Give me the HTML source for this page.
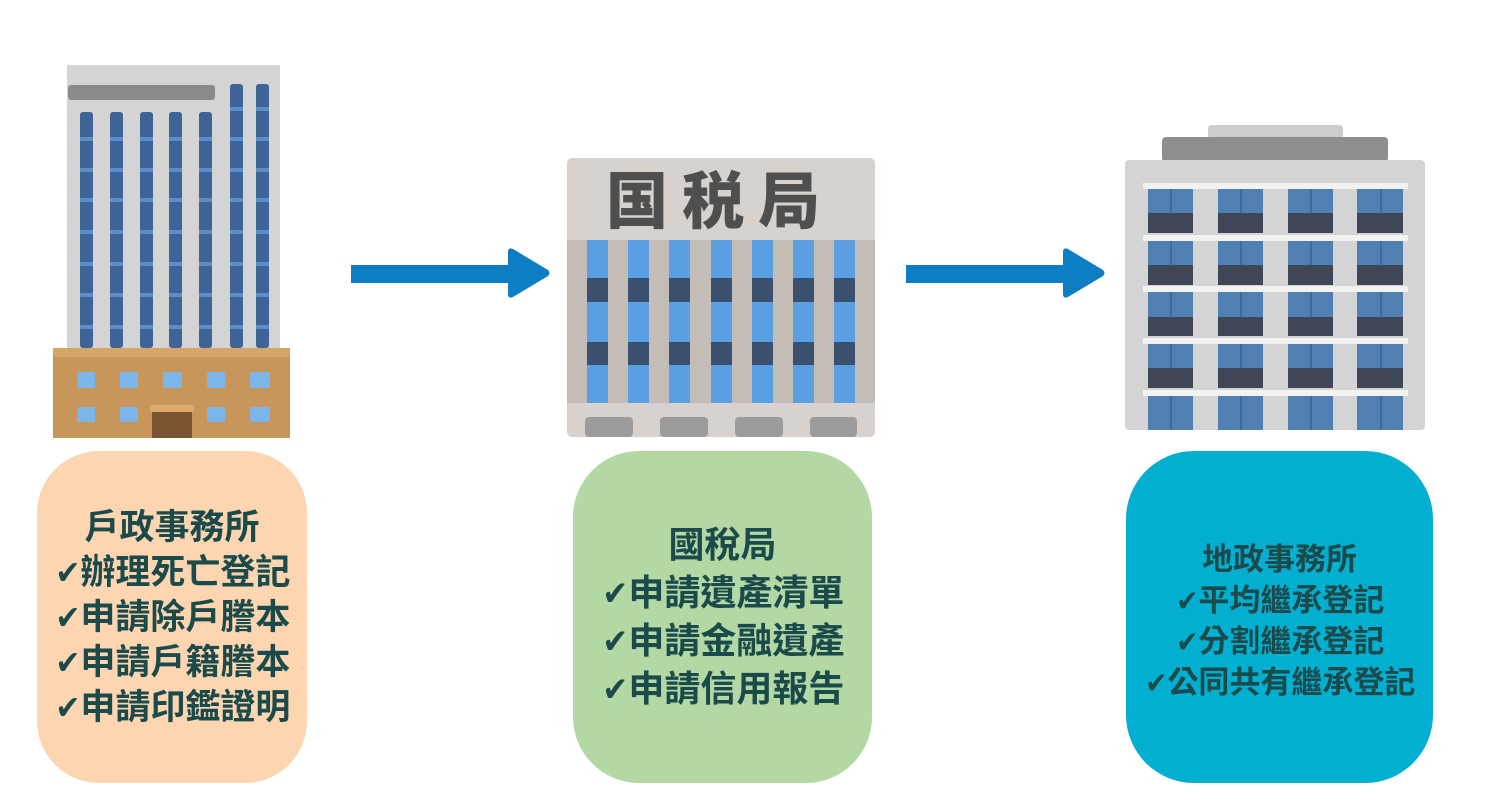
<!DOCTYPE html>
<html>
<head>
<meta charset="utf-8">
<style>
html,body{margin:0;padding:0;background:#fff;}
body{width:1500px;height:800px;position:relative;overflow:hidden;font-family:"Liberation Sans","Noto Sans CJK TC","DejaVu Sans",sans-serif;}
svg{position:absolute;left:0;top:0;}
.box{position:absolute;display:flex;align-items:center;justify-content:center;flex-direction:column;color:#1b4a4b;font-weight:bold;white-space:nowrap;text-align:center;box-sizing:border-box;}
.b1{left:37px;top:451px;width:270px;height:332px;background:#fdd5b0;border-radius:62px;font-size:35px;line-height:45px;}
.b2{left:573px;top:451px;width:299px;height:332px;background:#b3d8a4;border-radius:66px;font-size:36px;line-height:48px;}
.b3{left:1126px;top:451px;width:307px;height:332px;background:#03afd1;border-radius:68px;font-size:31px;line-height:41px;padding-top:8px;}
.ck{font-family:"DejaVu Sans",sans-serif;font-size:0.95em;line-height:0;display:inline-block;transform:scaleX(0.9);margin-right:-1px;}
</style>
</head>
<body>
<svg width="1500" height="800" viewBox="0 0 1500 800" xmlns="http://www.w3.org/2000/svg">
  <!-- Building 1 -->
  <rect x="67" y="65" width="213" height="285" fill="#d4d4d4"/>
  <rect x="68" y="85" width="147" height="15" rx="3" fill="#8a8a8a"/>
  <g fill="#3d6397">
    <rect x="80" y="112" width="13" height="236" rx="3"/>
    <rect x="110" y="112" width="13" height="236" rx="3"/>
    <rect x="140" y="112" width="13" height="236" rx="3"/>
    <rect x="169" y="112" width="13" height="236" rx="3"/>
    <rect x="199" y="112" width="13" height="236" rx="3"/>
    <rect x="230" y="84" width="13" height="264" rx="3"/>
    <rect x="256" y="84" width="13" height="264" rx="3"/>
  </g>
  <g fill="#5d8dc6">
    <rect x="80" y="137" width="189" height="4"/>
    <rect x="80" y="168" width="189" height="4"/>
    <rect x="80" y="198" width="189" height="4"/>
    <rect x="80" y="230" width="189" height="4"/>
    <rect x="80" y="262" width="189" height="4"/>
    <rect x="80" y="293" width="189" height="4"/>
    <rect x="80" y="325" width="189" height="4"/>
    <rect x="230" y="107" width="39" height="4"/>
  </g>
  <g fill="#d4d4d4">
    <rect x="93" y="130" width="17" height="210"/>
    <rect x="123" y="130" width="17" height="210"/>
    <rect x="153" y="130" width="16" height="210"/>
    <rect x="182" y="130" width="17" height="210"/>
    <rect x="212" y="100" width="18" height="240"/>
    <rect x="243" y="100" width="13" height="240"/>
  </g>
  <rect x="53" y="348" width="237" height="90" fill="#c8965a"/>
  <rect x="53" y="348" width="237" height="9" rx="2" fill="#d6a667"/>
  <g fill="#7ab6e9">
    <rect x="77" y="372" width="18" height="16" rx="2"/>
    <rect x="120" y="372" width="18" height="16" rx="2"/>
    <rect x="163" y="372" width="19" height="16" rx="2"/>
    <rect x="207" y="372" width="18" height="16" rx="2"/>
    <rect x="250" y="372" width="20" height="16" rx="2"/>
    <rect x="77" y="407" width="18" height="15" rx="2"/>
    <rect x="120" y="407" width="18" height="15" rx="2"/>
    <rect x="207" y="407" width="18" height="15" rx="2"/>
    <rect x="250" y="407" width="20" height="15" rx="2"/>
  </g>
  <rect x="150" y="405" width="44" height="7" fill="#dcaa6c"/>
  <rect x="152" y="412" width="40" height="26" fill="#7a5430"/>

  <!-- Arrows -->
  <g fill="#0d7ec4">
    <rect x="351" y="265" width="162" height="18"/>
    <path d="M508 252 Q508 247 513 249 L548 270 Q551 273 548 276 L513 297 Q508 299 508 294 Z"/>
    <rect x="906" y="265" width="162" height="18"/>
    <path d="M1063 252 Q1063 247 1068 249 L1103 270 Q1106 273 1103 276 L1068 297 Q1063 299 1063 294 Z"/>
  </g>

  <!-- Building 2 -->
  <rect x="567" y="158" width="308" height="279" rx="5" fill="#d7d2cd"/>
  <rect x="567" y="240" width="308" height="163" fill="#c4bdb7"/>
  <g fill="#5a9fe2">
    <rect x="587" y="240" width="21" height="163"/>
    <rect x="628" y="240" width="21" height="163"/>
    <rect x="669" y="240" width="21" height="163"/>
    <rect x="711" y="240" width="21" height="163"/>
    <rect x="752" y="240" width="21" height="163"/>
    <rect x="793" y="240" width="21" height="163"/>
    <rect x="834" y="240" width="21" height="163"/>
  </g>
  <g fill="#3b4f6e">
    <rect x="587" y="278" width="268" height="24"/>
    <rect x="587" y="342" width="268" height="23"/>
  </g>
  <g fill="#c4bdb7">
    <rect x="608" y="278" width="20" height="24"/><rect x="649" y="278" width="20" height="24"/>
    <rect x="690" y="278" width="21" height="24"/><rect x="732" y="278" width="20" height="24"/>
    <rect x="773" y="278" width="20" height="24"/><rect x="814" y="278" width="20" height="24"/>
    <rect x="608" y="342" width="20" height="23"/><rect x="649" y="342" width="20" height="23"/>
    <rect x="690" y="342" width="21" height="23"/><rect x="732" y="342" width="20" height="23"/>
    <rect x="773" y="342" width="20" height="23"/><rect x="814" y="342" width="20" height="23"/>
  </g>
  <g fill="#9c9c9c">
    <rect x="585" y="417" width="48" height="20" rx="4"/>
    <rect x="660" y="417" width="48" height="20" rx="4"/>
    <rect x="735" y="417" width="48" height="20" rx="4"/>
    <rect x="810" y="417" width="47" height="20" rx="4"/>
  </g>
  <text x="720" y="223" text-anchor="middle" font-family="Liberation Sans, Noto Sans CJK JP, sans-serif" font-weight="900" font-size="62" letter-spacing="14" fill="#4f4f4f">国税局</text>

  <!-- Building 3 -->
  <rect x="1208" y="125" width="135" height="14" rx="4" fill="#cdcdcd"/>
  <rect x="1162" y="137" width="226" height="25" rx="4" fill="#8e8e8e"/>
  <rect x="1125" y="160" width="300" height="270" rx="4" fill="#d4d4d4"/>
  <g fill="#4f80b1">
    <rect x="1148" y="189" width="45" height="24"/><rect x="1218" y="189" width="45" height="24"/><rect x="1288" y="189" width="45" height="24"/><rect x="1357" y="189" width="46" height="24"/>
    <rect x="1148" y="241" width="45" height="24"/><rect x="1218" y="241" width="45" height="24"/><rect x="1288" y="241" width="45" height="24"/><rect x="1357" y="241" width="46" height="24"/>
    <rect x="1148" y="292" width="45" height="25"/><rect x="1218" y="292" width="45" height="25"/><rect x="1288" y="292" width="45" height="25"/><rect x="1357" y="292" width="46" height="25"/>
    <rect x="1148" y="344" width="45" height="24"/><rect x="1218" y="344" width="45" height="24"/><rect x="1288" y="344" width="45" height="24"/><rect x="1357" y="344" width="46" height="24"/>
    <rect x="1148" y="396" width="45" height="34"/><rect x="1218" y="396" width="45" height="34"/><rect x="1288" y="396" width="45" height="34"/><rect x="1357" y="396" width="46" height="34"/>
  </g>
  <g fill="#3f4656">
    <rect x="1148" y="213" width="45" height="20"/><rect x="1218" y="213" width="45" height="20"/><rect x="1288" y="213" width="45" height="20"/><rect x="1357" y="213" width="46" height="20"/>
    <rect x="1148" y="265" width="45" height="20"/><rect x="1218" y="265" width="45" height="20"/><rect x="1288" y="265" width="45" height="20"/><rect x="1357" y="265" width="46" height="20"/>
    <rect x="1148" y="317" width="45" height="19"/><rect x="1218" y="317" width="45" height="19"/><rect x="1288" y="317" width="45" height="19"/><rect x="1357" y="317" width="46" height="19"/>
    <rect x="1148" y="368" width="45" height="20"/><rect x="1218" y="368" width="45" height="20"/><rect x="1288" y="368" width="45" height="20"/><rect x="1357" y="368" width="46" height="20"/>
  </g>
  <g fill="#3d6a98">
    <rect x="1170" y="189" width="2" height="24"/><rect x="1240" y="189" width="2" height="24"/><rect x="1310" y="189" width="2" height="24"/><rect x="1380" y="189" width="2" height="24"/>
    <rect x="1170" y="241" width="2" height="24"/><rect x="1240" y="241" width="2" height="24"/><rect x="1310" y="241" width="2" height="24"/><rect x="1380" y="241" width="2" height="24"/>
    <rect x="1170" y="292" width="2" height="25"/><rect x="1240" y="292" width="2" height="25"/><rect x="1310" y="292" width="2" height="25"/><rect x="1380" y="292" width="2" height="25"/>
    <rect x="1170" y="344" width="2" height="24"/><rect x="1240" y="344" width="2" height="24"/><rect x="1310" y="344" width="2" height="24"/><rect x="1380" y="344" width="2" height="24"/>
    <rect x="1170" y="396" width="2" height="34"/><rect x="1240" y="396" width="2" height="34"/><rect x="1310" y="396" width="2" height="34"/><rect x="1380" y="396" width="2" height="34"/>
  </g>
  <g fill="#f2f2f0">
    <rect x="1143" y="183" width="265" height="6"/>
    <rect x="1143" y="235" width="265" height="6"/>
    <rect x="1143" y="286" width="265" height="6"/>
    <rect x="1143" y="338" width="265" height="6"/>
    <rect x="1143" y="390" width="265" height="6"/>
  </g>
</svg>

<div class="box b1">
  <div>戶政事務所</div>
  <div><span class="ck">✔</span>辦理死亡登記</div>
  <div><span class="ck">✔</span>申請除戶謄本</div>
  <div><span class="ck">✔</span>申請戶籍謄本</div>
  <div><span class="ck">✔</span>申請印鑑證明</div>
</div>
<div class="box b2">
  <div>國稅局</div>
  <div><span class="ck">✔</span>申請遺產清單</div>
  <div><span class="ck">✔</span>申請金融遺產</div>
  <div><span class="ck">✔</span>申請信用報告</div>
</div>
<div class="box b3">
  <div>地政事務所</div>
  <div><span class="ck">✔</span>平均繼承登記</div>
  <div><span class="ck">✔</span>分割繼承登記</div>
  <div><span class="ck">✔</span>公同共有繼承登記</div>
</div>
</body>
</html>
